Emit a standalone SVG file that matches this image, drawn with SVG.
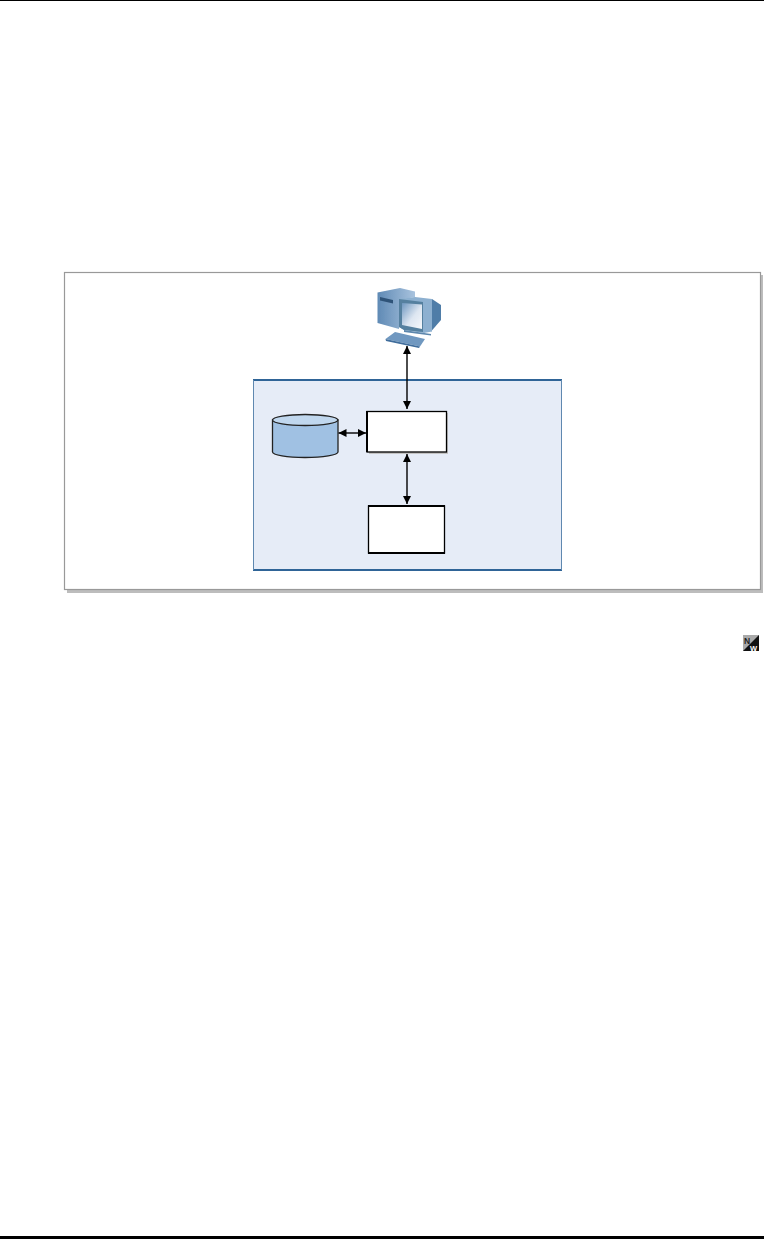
<svg xmlns="http://www.w3.org/2000/svg" width="764" height="1239" viewBox="0 0 764 1239">
<defs>
<marker id="a" markerUnits="userSpaceOnUse" markerWidth="9" markerHeight="8" refX="8" refY="4" orient="auto-start-reverse"><path d="M0 0L8 4L0 8Z" fill="#000"/></marker>
<linearGradient id="screen" x1="0" y1="0" x2="1" y2="1"><stop offset="0" stop-color="#6e97c0"/><stop offset=".55" stop-color="#dde6f1"/><stop offset="1" stop-color="#f6f8fb"/></linearGradient>
<linearGradient id="tower" x1="0" y1="0" x2="1" y2="0"><stop offset="0" stop-color="#5f8ab5"/><stop offset="1" stop-color="#a9c3de"/></linearGradient>
<filter id="soft" x="-5%" y="-5%" width="110%" height="110%"><feGaussianBlur stdDeviation="0.4"/></filter>
</defs>
<style>
.box{fill:#fff;stroke:#000}
.link{fill:none;stroke:#000;stroke-width:1.4;marker-start:url(#a);marker-end:url(#a)}
</style>
<rect width="764" height="1239" fill="#fff"/>
<rect id="header-rule" x="0" y="0" width="764" height="1" fill="#000"/>
<rect id="footer-rule" x="0" y="1236" width="764" height="3" fill="#000"/>
<g id="outer-frame">
<rect x="67" y="275" width="696" height="318" fill="#bdbdbd"/>
<rect x="64.500" y="272.500" width="696" height="317" fill="#fff" stroke="#999" stroke-width="1.200"/>
</g>
<g id="inner-panel">
<rect x="253" y="380" width="309" height="190" fill="#e6ecf7"/>
<path d="M253 380H562M253 570H562" stroke="#2f6497" stroke-width="2"/>
<path d="M253.500 380V570M561.500 380V570" stroke="#5f88b0" stroke-width="1"/>
</g>
<g id="computer" filter="url(#soft)">
<path d="M377.500 292.500L400 288L415 291.500V297L399 300V329L377.500 323Z" fill="url(#tower)"/>
<path d="M380 297L393 300V303.500L380 300.500Z" fill="#2f5378"/>
<path d="M432 299L441 305V320L431 331.500Z" fill="#4f7da8"/>
<path d="M399 299L415 297L432 299V331.500L424 333L404 330L399 327Z" fill="#8db0d0"/>
<path d="M399 299L423 302V332L404 330L399 327Z" fill="#55809f"/>
<path d="M402 303L422 304.500V329L402 325Z" fill="url(#screen)"/>
<path d="M404 330L431 334V335.500L404 332Z" fill="#5d87ad"/>
<path d="M395 332L425 339L420 346.500L385.500 339Z" fill="#6f98c0"/>
<path d="M385.500 339L420 346.500L419 348L386 341Z" fill="#3f6d9c"/>
</g>
<g id="database">
<path d="M272.500 420V452C272.500 455 287 457.500 305 457.500S338 455 338 452V420Z" fill="#a0c1e3" stroke="#222" stroke-width="1.300"/>
<ellipse cx="305.200" cy="420" rx="32.700" ry="5.500" fill="#c0d7ee" stroke="#222" stroke-width="1.300"/>
</g>
<g id="server"><rect x="369" y="413" width="79" height="41" fill="#c4c4c4"/><rect class="box" x="367" y="411.500" width="79.500" height="40.500" stroke-width="1.300"/><path d="M367 411V452" stroke="#000" stroke-width="2"/></g>
<g id="storage"><rect class="box" x="368.500" y="506" width="76" height="47" stroke-width="1.300"/><path d="M368 506H445M368 553H445" stroke="#000" stroke-width="2"/></g>
<g id="connectors">
<path class="link" d="M407 346V409"/>
<path class="link" d="M407 454V504"/>
<path class="link" d="M338.500 433H366"/>
</g>
<g id="nw-icon">
<rect x="743" y="635" width="16" height="16" fill="#aaa"/>
<path d="M759 635V651H743Z" fill="#111"/>
<text x="744" y="643.500" font-family="Liberation Sans, sans-serif" font-size="8.500" font-weight="700" fill="#222">N</text>
<text x="750" y="650.500" font-family="Liberation Sans, sans-serif" font-size="7.500" font-weight="700" fill="#fff">W</text>
</g>
</svg>
